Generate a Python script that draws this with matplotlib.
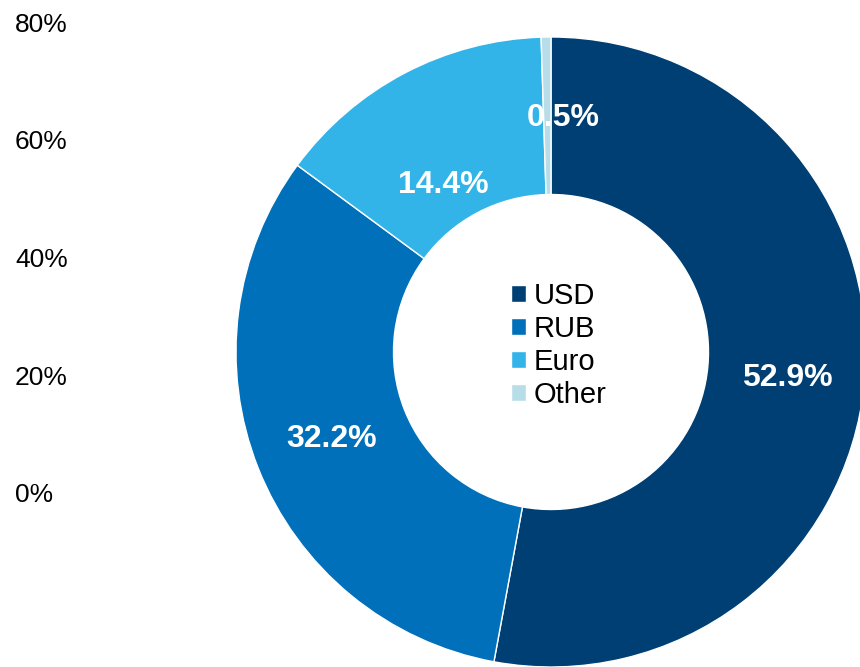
import matplotlib.pyplot as plt
import numpy as np

plt.rcParams['font.family'] = ['Liberation Sans', 'DejaVu Sans']

currencies = ['USD', 'RUB', 'Euro', 'Other']
shares = [52.9, 32.2, 14.4, 0.5]
colors = ['#003F73', '#0070BA', '#32B4E8', '#B7DEE8']
axis_ticks = [0, 0.2, 0.4, 0.6, 0.8]
axis_labels = ['0%', '20%', '40%', '60%', '80%']

# label placement tweaks (radius, angle shift in degrees)
label_r = [0.755, 0.75, 0.63, 0.745]
label_shift = [-1, 0, 5, -4]

fig = plt.figure(figsize=(8.6, 6.67), dpi=100)

# leftover value axis on the left
ax_bg = fig.add_axes([15 / 860, (667 - 493) / 667, 0.15, (493 - 22) / 667])
ax_bg.set_ylim(0, 0.8)
ax_bg.set_yticks(axis_ticks)
ax_bg.set_yticklabels(axis_labels, fontsize=19)
ax_bg.tick_params(axis='y', length=0, pad=0)
for lbl in ax_bg.get_yticklabels():
    lbl.set_horizontalalignment('left')
ax_bg.set_xticks([])
for s in ax_bg.spines.values():
    s.set_visible(False)
ax_bg.patch.set_visible(False)

# donut
ax = fig.add_axes([236 / 860, 0, 630 / 860, 630 / 667])
wedges, _ = ax.pie(shares, colors=colors, startangle=90, counterclock=False,
                   radius=1, wedgeprops=dict(width=0.5, edgecolor='white', linewidth=1))
ax.set_xlim(-1, 1)
ax.set_ylim(-1, 1)
ax.set_aspect('equal')
ax.axis('off')

total = sum(shares)
start = 90
for i, v in enumerate(shares):
    sweep = 360 * v / total
    mid = np.deg2rad(start - sweep / 2 + label_shift[i])
    ax.text(label_r[i] * np.cos(mid), label_r[i] * np.sin(mid), f'{v:.1f}%',
            ha='center', va='center', color='white', fontsize=23, fontweight='bold')
    start -= sweep

leg = ax.legend(wedges, currencies, loc='center', bbox_to_anchor=(0.512, 0.51),
                frameon=False, fontsize=21, handlelength=0.52, handleheight=0.52,
                handletextpad=0.25, labelspacing=0.17, borderpad=0)

fig.savefig('out.png', dpi=100)
